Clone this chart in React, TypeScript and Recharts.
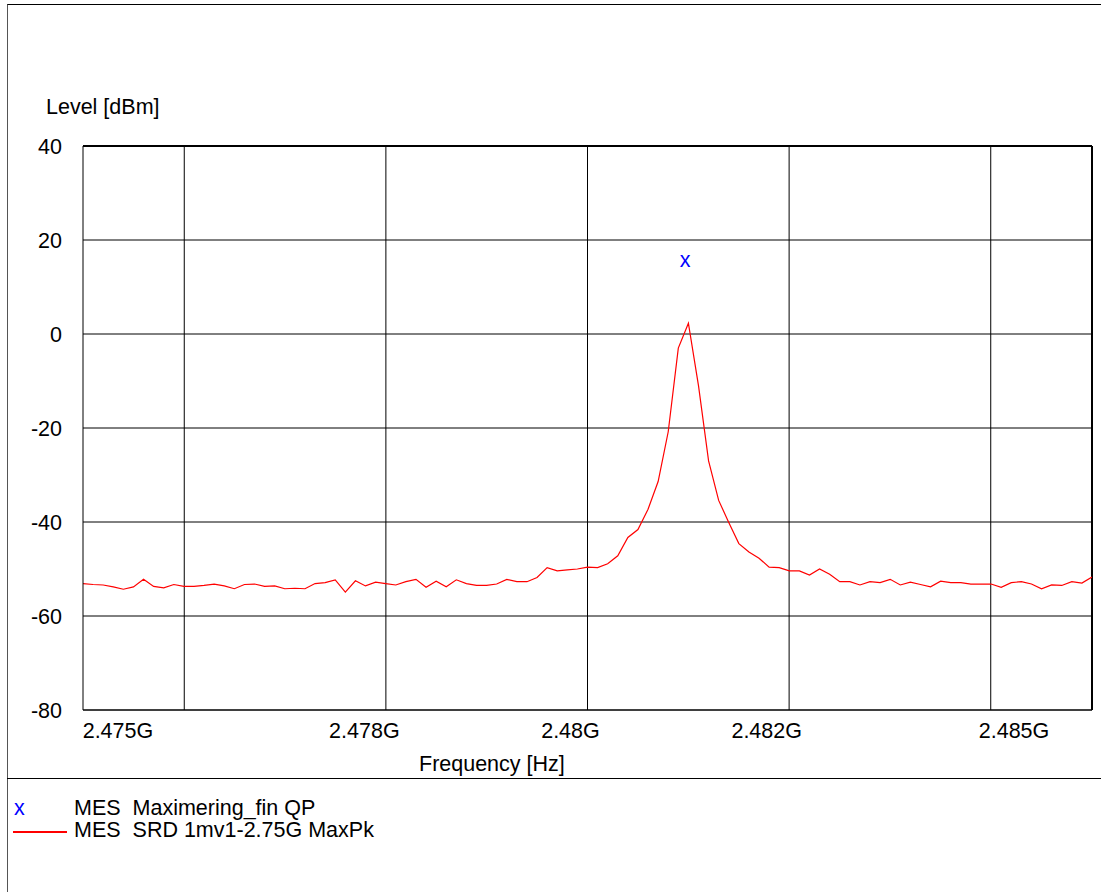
import { ComposedChart, Line, Scatter, XAxis, YAxis, CartesianGrid, ReferenceLine } from 'recharts'

// sweep: 101 points, evenly spaced in frequency (GHz)
const F_START = 2.47461
const F_STEP = 0.0001126
const F_STOP = F_START + 100 * F_STEP

// MES SRD 1mv1-2.75G MaxPk, level in dBm for each sweep point
const LEVELS = [
  -53.1, -53.3, -53.4, -53.8, -54.3, -53.8, -52.2, -53.7, -54.0, -53.3,
  -53.7, -53.7, -53.5, -53.2, -53.6, -54.2, -53.3, -53.2, -53.7, -53.6,
  -54.2, -54.1, -54.2, -53.1, -52.9, -52.3, -54.9, -52.5, -53.6, -52.8,
  -53.1, -53.4, -52.7, -52.2, -53.9, -52.6, -53.8, -52.3, -53.1, -53.5,
  -53.5, -53.2, -52.2, -52.7, -52.7, -51.8, -49.7, -50.4, -50.2, -50.0,
  -49.6, -49.7, -48.9, -47.2, -43.3, -41.6, -37.3, -31.4, -20.8, -3.0,
  2.3, -11.0, -27.0, -35.4, -40.1, -44.6, -46.4, -47.7, -49.6, -49.7,
  -50.4, -50.4, -51.3, -50.0, -51.1, -52.7, -52.7, -53.4, -52.7, -52.9,
  -52.2, -53.4, -52.8, -53.3, -53.8, -52.6, -52.9, -52.9, -53.2, -53.2,
  -53.2, -53.9, -52.9, -52.7, -53.2, -54.2, -53.4, -53.5, -52.7, -53.0,
  -51.7,
]

// MES Maximering_fin QP
const MARKER_FREQS = [2.48133]
const MARKER_LEVELS = [15.4]

const X_TICKS = [2.475, 2.47775, 2.48005, 2.48224, 2.485]
const X_GRID = [2.47574, 2.47799, 2.48024, 2.48249, 2.48474]
const Y_TICKS = [40, 20, 0, -20, -40, -60, -80]

const FONT = '"Liberation Sans", Arial, sans-serif'
const FS = 21.5

const trace = LEVELS.map((level, i) => ({ freq: F_START + i * F_STEP, level }))
const markers = MARKER_FREQS.map((freq, i) => ({ freq, level: MARKER_LEVELS[i] }))

function AxisTitle({ viewBox, text, dx, dy }: any) {
  const x = viewBox?.x ?? 0
  const y = viewBox?.y ?? 0
  return (
    <text x={x + dx} y={y + dy} fontFamily={FONT} fontSize={FS} fill="#000">
      {text}
    </text>
  )
}

function XMark(props: any) {
  const { cx, cy } = props
  return (
    <text x={cx} y={cy} dy="0.26em" textAnchor="middle" fontFamily={FONT} fontSize={FS} fill="#0000ff">
      x
    </text>
  )
}

const fmtFreq = (v: number) => `${parseFloat(v.toFixed(3))}G`

export default function App() {
  return (
    <div style={{ position: 'absolute', left: 0, top: 0, width: 1101, height: 892, background: '#fff' }}>
      {/* frame */}
      <div style={{ position: 'absolute', left: 7, top: 4, width: 1094, height: 888, borderLeft: '1px solid #555', borderTop: '1px solid #000' }} />
      <div style={{ position: 'absolute', left: 7, top: 778, width: 1094, borderTop: '1px solid #000' }} />

      <ComposedChart
        width={1101}
        height={892}
        data={trace}
        margin={{ top: 146, right: 9, left: 23, bottom: 152 }}
        style={{ position: 'absolute', left: 0, top: 0 }}
      >
        <CartesianGrid vertical={false} stroke="#000" strokeDasharray="" />
        {X_GRID.map((f) => (
          <ReferenceLine key={f} x={f} stroke="#000" strokeWidth={1} />
        ))}
        <ReferenceLine y={40} stroke="#000" strokeWidth={2} />
        <ReferenceLine x={F_STOP} stroke="#000" strokeWidth={2} />
        <XAxis
          type="number"
          dataKey="freq"
          domain={[F_START, F_STOP]}
          allowDataOverflow
          ticks={X_TICKS}
          interval={0}
          tickFormatter={fmtFreq}
          tickLine={false}
          tickSize={0}
          tickMargin={13}
          height={30}
          axisLine={{ stroke: '#000' }}
          tick={{ fill: '#000', fontSize: FS, fontFamily: FONT }}
          label={<AxisTitle text="Frequency [Hz]" dx={336} dy={61} />}
        />
        <YAxis
          type="number"
          domain={[-80, 40]}
          ticks={Y_TICKS}
          interval={0}
          tickLine={false}
          tickSize={0}
          tickMargin={21}
          width={60}
          axisLine={{ stroke: '#000' }}
          tick={{ fill: '#000', fontSize: FS, fontFamily: FONT }}
          label={<AxisTitle text="Level [dBm]" dx={23} dy={-32} />}
        />
        <Line
          type="linear"
          dataKey="level"
          stroke="#ff0000"
          strokeWidth={1.2}
          dot={false}
          activeDot={false}
          isAnimationActive={false}
        />
        <Scatter data={markers} dataKey="level" shape={<XMark />} isAnimationActive={false} />
      </ComposedChart>

      {/* legend */}
      <div style={{ position: 'absolute', left: 0, top: 797, fontFamily: FONT, fontSize: FS, lineHeight: '22px', color: '#000', whiteSpace: 'pre' }}>
        <div style={{ position: 'relative', height: 22 }}>
          <span style={{ position: 'absolute', left: 14, color: '#0000ff' }}>x</span>
          <span style={{ position: 'absolute', left: 74 }}>MES  Maximering_fin QP</span>
        </div>
        <div style={{ position: 'relative', height: 22 }}>
          <span style={{ position: 'absolute', left: 13, top: 12, width: 54, height: 2, background: '#ff0000' }} />
          <span style={{ position: 'absolute', left: 74 }}>MES  SRD 1mv1-2.75G MaxPk</span>
        </div>
      </div>
    </div>
  )
}
